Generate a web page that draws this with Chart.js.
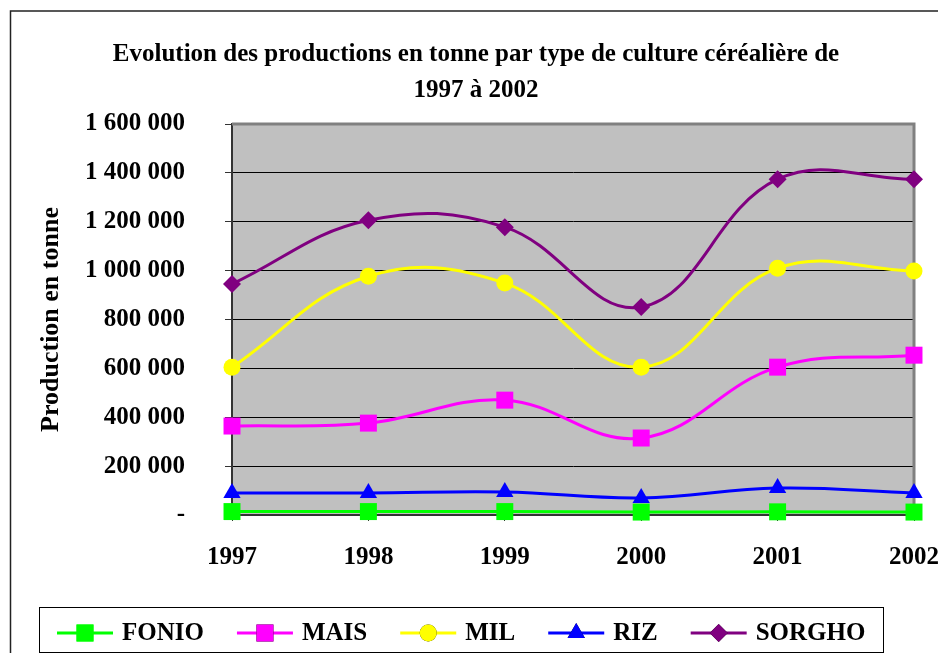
<!DOCTYPE html>
<html>
<head>
<meta charset="utf-8">
<script src="https://cdn.jsdelivr.net/npm/chart.js@4/dist/chart.umd.min.js"></script>
<style>
  html, body { margin: 0; padding: 0; background: #fff; }
  canvas { display: block; }
</style>
</head>
<body>
<canvas id="chart" width="938" height="653"></canvas>
<script>
// Data
const years = ["1997", "1998", "1999", "2000", "2001", "2002"];
const fonio = [14000, 14000, 14000, 12000, 13000, 12000];
const mais = [364000, 376000, 470000, 315000, 605000, 654000];
const mil = [605000, 977000, 949000, 605000, 1010000, 998000];
const riz = [90000, 90000, 94000, 70000, 110000, 90000];
const sorgho = [945000, 1206000, 1178000, 851000, 1374000, 1374000];

const titleLines = [
  "Evolution des productions en tonne par type de culture céréalière de",
  "1997 à 2002",
];
const yTitle = "Production en tonne";

const FONT = "'Liberation Serif', 'Times New Roman', serif";

function fmt(v) {
  if (v === 0) return "-";
  return String(v).replace(/\B(?=(\d{3})+(?!\d))/g, " ");
}

function series(label, data, color, pointStyle, radius) {
  return {
    label,
    data,
    borderColor: color,
    backgroundColor: color,
    borderWidth: 3,
    pointStyle,
    pointRadius: radius,
    pointHoverRadius: radius,
    pointBorderWidth: 0,
    tension: 0.4,
    clip: false,
  };
}

const datasets = [
  series("FONIO", fonio, "#00FF00", "rect", 12),
  series("MAIS", mais, "#FF00FF", "rect", 12),
  series("MIL", mil, "#FFFF00", "circle", 8.5),
  series("RIZ", riz, "#0000FF", "triangle", 10),
  series("SORGHO", sorgho, "#800080", "rectRot", 9),
];

const framePlugin = {
  id: "frame",
  beforeDraw(chart) {
    const { ctx, chartArea: a } = chart;
    ctx.save();
    ctx.fillStyle = "#fff";
    ctx.fillRect(0, 0, chart.width, chart.height);
    // outer frame
    ctx.strokeStyle = "#222";
    ctx.lineWidth = 1.5;
    ctx.beginPath();
    ctx.moveTo(10.5, chart.height);
    ctx.lineTo(10.5, 11);
    ctx.lineTo(chart.width, 11);
    ctx.stroke();
    // plot area
    ctx.fillStyle = "#C0C0C0";
    ctx.fillRect(a.left, a.top, a.right - a.left, a.bottom - a.top);
    ctx.restore();
  },
  beforeDatasetsDraw(chart) {
    const { ctx, chartArea: a } = chart;
    ctx.save();
    ctx.strokeStyle = "#808080";
    ctx.lineWidth = 3;
    ctx.beginPath();
    ctx.moveTo(a.left, a.top);
    ctx.lineTo(a.right, a.top);
    ctx.lineTo(a.right, a.bottom);
    ctx.stroke();
    ctx.restore();
  },
  afterDraw(chart) {
    const { ctx } = chart;
    ctx.save();
    ctx.strokeStyle = "#000";
    ctx.lineWidth = 1;
    ctx.strokeRect(39.5, 607.5, 844, 45);
    ctx.font = "bold 25px " + FONT;
    ctx.textBaseline = "middle";
    const y = 633;
    let x = 57;
    chart.data.datasets.forEach((ds) => {
      ctx.strokeStyle = ds.borderColor;
      ctx.lineWidth = 3;
      ctx.beginPath();
      ctx.moveTo(x, y);
      ctx.lineTo(x + 56, y);
      ctx.stroke();
      Chart.helpers.drawPoint(ctx, {
        pointStyle: ds.pointStyle,
        radius: ds.pointRadius,
        rotation: 0,
        borderWidth: 0,
      }, x + 28, y);
      ctx.fillStyle = ds.backgroundColor;
      ctx.fill();
      ctx.fillStyle = "#000";
      ctx.fillText(ds.label, x + 65, y + 1);
      x += 65 + ctx.measureText(ds.label).width + 33;
    });
    ctx.restore();
  },
};

new Chart(document.getElementById("chart"), {
  type: "line",
  data: { labels: years, datasets },
  plugins: [framePlugin],
  options: {
    responsive: false,
    animation: false,
    layout: { padding: { left: 14, right: 0, top: 10, bottom: 68 } },
    plugins: {
      legend: { display: false },
      tooltip: { enabled: false },
      title: {
        display: true,
        text: titleLines,
        color: "#000",
        font: { family: FONT, size: 25, weight: "bold", lineHeight: 1.44 },
        padding: { top: 27, bottom: 15 },
      },
    },
    scales: {
      x: {
        offset: false,
        afterFit(scale) {
          scale.height = 70;
          scale.paddingLeft = 0;
          scale.paddingRight = 24;
        },
        grid: { drawOnChartArea: false, drawTicks: true, tickLength: 6, color: "#333" },
        border: { display: true, color: "#333", width: 2 },
        ticks: {
          color: "#000",
          padding: 22,
          maxRotation: 0,
          font: { family: FONT, size: 25, weight: "bold" },
        },
      },
      y: {
        min: 0,
        max: 1600000,
        afterFit(scale) {
          scale.width = 218;
        },
        grid: { color: "#000", lineWidth: 1, tickLength: 7, tickColor: "#333" },
        border: { display: true, color: "#333", width: 2 },
        ticks: {
          stepSize: 200000,
          color: "#000",
          padding: 40,
          font: { family: FONT, size: 25, weight: "bold" },
          callback: (v) => fmt(v),
        },
        title: {
          display: true,
          text: yTitle,
          color: "#000",
          font: { family: FONT, size: 26, weight: "bold" },
          padding: { top: 22 },
        },
      },
    },
  },
});
</script>
</body>
</html>
